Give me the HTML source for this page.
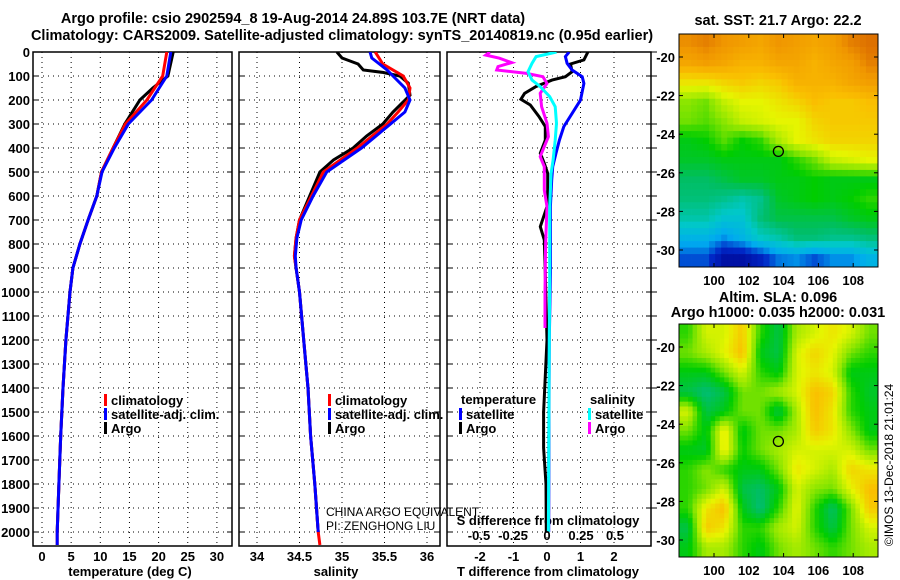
<!DOCTYPE html>
<html><head><meta charset="utf-8"><style>
body{margin:0;background:#fff}
svg{display:block;font-family:"Liberation Sans",sans-serif}
.t{font-weight:bold;font-size:13px}
.h{font-weight:bold;font-size:14.5px}
</style></head><body>
<svg id="c" width="900" height="580" viewBox="0 0 900 580">
<text class="h" x="293" y="23" text-anchor="middle">Argo profile: csio 2902594_8 19-Aug-2014 24.89S 103.7E (NRT data)</text>
<text class="h" x="342" y="40" text-anchor="middle">Climatology: CARS2009. Satellite-adjusted climatology: synTS_20140819.nc (0.95d earlier)</text>
<text class="t" x="130" y="576" text-anchor="middle">temperature (deg C)</text>
<text class="t" x="336" y="576" text-anchor="middle">salinity</text>
<text class="t" x="548" y="576" text-anchor="middle">T difference from climatology</text>
<text class="t" x="548" y="525" text-anchor="middle">S difference from climatology</text>
<text x="326" y="516" font-size="12">CHINA ARGO EQUIVALENT</text>
<text x="326" y="530" font-size="12">PI: ZENGHONG LIU</text>
<text class="h" x="778" y="25" text-anchor="middle">sat. SST: 21.7 Argo: 22.2</text>
<text class="h" x="778" y="302" text-anchor="middle">Altim. SLA: 0.096</text>
<text class="h" x="778" y="317" text-anchor="middle">Argo h1000: 0.035 h2000: 0.031</text>
<text x="893" y="465" font-size="12" text-anchor="middle" transform="rotate(-90 893 465)">©IMOS 13-Dec-2018 21:01:24</text>
</svg>
<script>
// ---- depth axis ----
const depthTicks=[0,100,200,300,400,500,600,700,800,900,1000,1100,1200,1300,1400,1500,1600,1700,1800,1900,2000];
// ---- temperature panel ----
const tTicks=[0,5,10,15,20,25,30];
const tArgoDepth=[0,100,150,200,300,400,500,600,700,800,900,1000,1200,1400,1600,1800,2000];
const tArgo=[22.5,21.6,19,16.8,14.2,12.2,10.2,9.4,7.9,6.5,5.3,4.8,4.1,3.6,3.2,2.9,2.6];
const tClimDepth=[0,100,200,300,400,500,600,700,800,900,1000,1200,1400,1600,1800,2000,2054];
const tClim=[21.4,20.7,18,14.3,12.2,10.2,9.4,7.9,6.5,5.3,4.8,4.1,3.6,3.2,2.9,2.6,2.6];
const tSat=[22.1,21.4,18.8,14.8,12.4,10.3,9.4,7.9,6.5,5.3,4.8,4.1,3.6,3.2,2.9,2.6,2.6];
// ---- salinity panel ----
const sTicks=[34,34.5,35,35.5,36];
const sArgoDepth=[0,25,50,75,85,100,130,180,250,300,350,400,450,500,600,700,775,850,900,1000,1200,1400,1600,1800,2000];
const sArgo=[34.94,35.0,35.19,35.25,35.48,35.68,35.78,35.8,35.6,35.48,35.29,35.13,34.9,34.74,34.62,34.5,34.46,34.44,34.46,34.5,34.55,34.6,34.63,34.68,34.72];
const sClimDepth=[0,50,100,150,200,250,300,400,500,600,700,775,850,900,1000,1200,1400,1600,1800,2000,2054];
const sClim=[35.39,35.48,35.72,35.8,35.78,35.66,35.53,35.18,34.78,34.64,34.5,34.46,34.44,34.46,34.5,34.55,34.6,34.63,34.68,34.72,34.74];
const sSatDepth=[0,25,75,100,150,200,250,300,400,500,600,700,775,850,900,1000,1200,1400,1600,1800,2000];
const sSat=[35.33,35.35,35.53,35.6,35.74,35.8,35.74,35.57,35.23,34.82,34.66,34.52,34.47,34.45,34.46,34.5,34.55,34.6,34.63,34.68,34.72];
// ---- difference panel ----
const dTTicks=[-2,-1,0,1,2];
const dSTicks=[-0.5,-0.25,0,0.25,0.5];
const dTArgoDepth=[0,33,50,82,103,117,144,172,197,221,269,311,367,422,464,506,575,644,728,783,922,1200,1500,1650,1800,2000];
const dTArgo=[1.22,1.1,0.7,0.75,0.55,0.15,-0.33,-0.67,-0.78,-0.5,-0.24,-0.05,-0.05,-0.2,-0.08,0.02,0.02,0,-0.2,-0.08,-0.05,0,-0.1,-0.1,-0.03,-0.02];
const dTSatDepth=[0,19,47,75,103,131,200,256,311,367,422,478,533,644,922,1200,1500,2000];
const dTSat=[0.66,0.55,0.6,0.75,1.05,1.1,1.0,0.75,0.5,0.37,0.27,0.17,0.14,0.1,0.1,0.07,0.06,0.05];
const dSArgoDepth=[0,13,26,44,61,75,89,103,131,172,228,297,353,394,436,478,575,644,800,1000,1150];
const dSArgo=[-0.42,-0.45,-0.35,-0.26,-0.36,-0.37,-0.15,-0.03,0,-0.05,-0.04,0,0.01,-0.02,-0.05,-0.02,-0.02,0,-0.01,-0.015,-0.015];
const dSSatDepth=[0,19,47,82,117,144,186,228,297,367,450,506,644,922,1400,2000];
const dSSat=[0.07,-0.08,-0.11,-0.14,-0.11,-0.05,0.02,0.06,0.07,0.06,0.045,0.03,0.02,0.02,0.015,0.01];
// ---- maps ----
const lonTicks=[100,102,104,106,108];
const latTicks=[-20,-22,-24,-26,-28,-30];
const sstGrid=[
[.93,.95,.92,.9,.88,.92,.9,.88,.9,.95,.97],
[.88,.9,.88,.85,.85,.88,.88,.85,.88,.9,.95],
[.75,.75,.78,.8,.78,.8,.85,.85,.85,.88,.9],
[.62,.6,.68,.72,.72,.75,.78,.82,.8,.8,.82],
[.6,.58,.62,.68,.7,.72,.72,.78,.8,.8,.8],
[.5,.52,.58,.52,.55,.65,.72,.75,.78,.78,.78],
[.48,.48,.5,.5,.5,.5,.55,.6,.68,.7,.72],
[.42,.42,.45,.48,.48,.5,.5,.52,.5,.5,.5],
[.4,.4,.38,.35,.38,.48,.5,.52,.5,.52,.55],
[.35,.35,.3,.3,.4,.45,.45,.45,.45,.48,.5],
[.25,.25,.2,.25,.32,.35,.4,.4,.38,.38,.4],
[.15,.15,.05,.05,.1,.18,.2,.15,.2,.2,.25]];
const slaGrid=[
[.55,.7,.7,.8,.55,.45,.65,.7,.75,.7,.6],
[.6,.65,.72,.82,.5,.45,.7,.78,.72,.6,.55],
[.5,.5,.6,.7,.55,.5,.7,.75,.7,.5,.5],
[.45,.4,.45,.6,.6,.65,.7,.82,.78,.55,.48],
[.7,.45,.5,.6,.6,.45,.65,.82,.75,.55,.5],
[.6,.5,.75,.5,.6,.6,.65,.8,.75,.62,.5],
[.5,.48,.75,.52,.6,.65,.7,.7,.7,.7,.6],
[.55,.62,.55,.5,.5,.6,.75,.7,.65,.78,.75],
[.55,.6,.7,.45,.42,.5,.7,.62,.6,.72,.82],
[.55,.75,.82,.5,.4,.55,.72,.55,.42,.6,.8],
[.45,.8,.75,.55,.55,.65,.7,.55,.45,.6,.7],
[.5,.65,.65,.55,.5,.6,.65,.6,.55,.6,.65]];
const argoLon=103.7, argoLat=-24.89;

const NS='http://www.w3.org/2000/svg';
const svg=document.getElementById('c');
function mk(tag,attrs,parent){const e=document.createElementNS(NS,tag);for(const k in attrs)e.setAttribute(k,attrs[k]);(parent||svg).appendChild(e);return e;}
const Y=d=>52+d*0.24;
const TOP=52,BOT=546;
const panels=[
 {name:'temperature',x0:33,x1:232,fx:v=>42+v*5.83,ticks:tTicks,grid:tTicks},
 {name:'salinity',x0:239,x1:440,fx:v=>257+(v-34)*85,ticks:sTicks,grid:sTicks},
 {name:'difference',x0:447,x1:651,fx:v=>547+v*33.5,ticks:dTTicks,grid:dTTicks}
];
const fS=v=>547+v*136;
panels.forEach(p=>{
 const g=mk('g',{});
 
 
 const cp=mk('clipPath',{id:'cp-'+p.name},g);mk('rect',{x:p.x0,y:TOP,width:p.x1-p.x0,height:BOT-TOP},cp);
 depthTicks.forEach(d=>{
  const l=mk('line',{x1:p.x0,x2:p.x1,y1:Y(d),y2:Y(d),stroke:'#000','stroke-dasharray':'1 4','stroke-width':1},g);
  
  mk('line',{x1:p.x0,x2:p.x0+5,y1:Y(d),y2:Y(d),stroke:'#000'},g);
  mk('line',{x1:p.x1-5,x2:p.x1,y1:Y(d),y2:Y(d),stroke:'#000'},g);
 });
 p.grid.forEach(v=>{
  const x=p.fx(v);
  const l=mk('line',{x1:x,x2:x,y1:TOP,y2:BOT,stroke:'#000','stroke-dasharray':'1 4'},g);
  
  const t=mk('text',{x:x,y:561,'text-anchor':'middle',class:'t'},g);t.textContent=String(v);
  
 });
 mk('rect',{x:p.x0,y:TOP,width:p.x1-p.x0,height:BOT-TOP,fill:'none',stroke:'#000','stroke-width':1.5},g);
 p.g=g;
});
depthTicks.forEach(d=>{
 const t=mk('text',{x:30,y:Y(d)+5,'text-anchor':'end',class:'t'});t.textContent=String(d);
 
});
dSTicks.forEach(v=>{
 const t=mk('text',{x:fS(v),y:540,'text-anchor':'middle',class:'t'});t.textContent=String(v);
 
});
function line(p,fx,vals,depths,color,name,w){
 const pts=vals.map((v,i)=>fx(v).toFixed(1)+','+Y(depths[i]).toFixed(1)).join(' ');
 const e=mk('polyline',{points:pts,fill:'none',stroke:color,'stroke-width':w||3,'clip-path':'url(#cp-'+p.name+')'},p.g);
 
}
const [P1,P2,P3]=panels;
line(P1,P1.fx,tArgo,tArgoDepth,'#000','temperature-argo-line');
line(P1,P1.fx,tClim,tClimDepth,'#f00','temperature-climatology-line');
line(P1,P1.fx,tSat,tClimDepth,'#00f','temperature-satellite-line');
line(P2,P2.fx,sArgo,sArgoDepth,'#000','salinity-argo-line');
line(P2,P2.fx,sClim,sClimDepth,'#f00','salinity-climatology-line');
line(P2,P2.fx,sSat,sSatDepth,'#00f','salinity-satellite-line');
line(P3,P3.fx,dTArgo,dTArgoDepth,'#000','t-diff-argo-line');
line(P3,P3.fx,dTSat,dTSatDepth,'#00f','t-diff-satellite-line');
line(P3,fS,dSArgo,dSArgoDepth,'#f0f','s-diff-argo-line');
line(P3,fS,dSSat,dSSatDepth,'#0ff','s-diff-satellite-line');

function legend(x,y,items,name,head){
 const g=mk('g',{});
 
 let yy=y;
 if(head){const t=mk('text',{x:x+2,y:yy+4,class:'t'},g);t.textContent=head;yy+=14;}
 items.forEach(([c,l])=>{
  mk('rect',{x:x,y:yy-6,width:3,height:12,fill:c},g);
  const t=mk('text',{x:x+7,y:yy+5,class:'t'},g);t.textContent=l;
  yy+=14;
 });
}
legend(104,400,[['#f00','climatology'],['#00f','satellite-adj. clim.'],['#000','Argo']],'temperature-legend');
legend(328,400,[['#f00','climatology'],['#00f','satellite-adj. clim.'],['#000','Argo']],'salinity-legend');
legend(459,400,[['#00f','satellite'],['#000','Argo']],'t-diff-legend','temperature');
legend(588,400,[['#0ff','satellite'],['#f0f','Argo']],'s-diff-legend','salinity');
depthTicks.forEach(d=>mk('line',{x1:651,x2:657,y1:Y(d),y2:Y(d),stroke:'#000'}));

// ---- maps ----
const stops=[[0,[0,0,140]],[0.12,[0,40,200]],[0.22,[0,170,240]],[0.32,[0,200,200]],[0.42,[0,190,100]],[0.52,[0,205,0]],[0.62,[140,230,0]],[0.72,[230,245,0]],[0.82,[250,190,0]],[0.92,[240,150,0]],[1,[210,90,0]]];
function cmap(v){for(let i=1;i<stops.length;i++){if(v<=stops[i][0]){const a=stops[i-1],b=stops[i],t=(v-a[0])/(b[0]-a[0]);return 'rgb('+a[1].map((c,k)=>Math.round(c+(b[1][k]-c)*t)).join(',')+')';}}return 'rgb(210,90,0)';}
function sample(grid,fy,fx){
 const R=grid.length,C=grid[0].length;
 const y=Math.min(Math.max(fy*R-0.5,0),R-1),x=Math.min(Math.max(fx*C-0.5,0),C-1);
 const y0=Math.floor(y),x0=Math.floor(x),y1=Math.min(y0+1,R-1),x1=Math.min(x0+1,C-1),ty=y-y0,tx=x-x0;
 return grid[y0][x0]*(1-ty)*(1-tx)+grid[y0][x1]*(1-ty)*tx+grid[y1][x0]*ty*(1-tx)+grid[y1][x1]*ty*tx;
}
const MX0=679,MX1=878;
const fLon=l=>714+(l-100)*17.4;
function map(y0,y1,grid,name,fLat,sub){
 const g=mk('g',{});
 
 const rows=grid.length*sub,cols=grid[0].length*sub,cw=(MX1-MX0)/cols,ch=(y1-y0)/rows;
 for(let i=0;i<rows;i++)for(let j=0;j<cols;j++){
  const v=sample(grid,(i+0.5)/rows,(j+0.5)/cols);
  const c=mk('rect',{x:(MX0+j*cw).toFixed(2),y:(y0+i*ch).toFixed(2),width:(cw+0.4).toFixed(2),height:(ch+0.4).toFixed(2),fill:cmap(v)},g);
  
  
 }
 mk('rect',{x:MX0,y:y0,width:MX1-MX0,height:y1-y0,fill:'none',stroke:'#000'},g);
 lonTicks.forEach(l=>{const x=fLon(l);mk('line',{x1:x,x2:x,y1:y0,y2:y0+4,stroke:'#000'},g);mk('line',{x1:x,x2:x,y1:y1-4,y2:y1,stroke:'#000'},g);
  const t=mk('text',{x:x,y:y1+18,'text-anchor':'middle',class:'t'},g);t.textContent=String(l);});
 latTicks.forEach(l=>{const y=fLat(l);mk('line',{x1:MX0,x2:MX0+4,y1:y,y2:y,stroke:'#000'},g);mk('line',{x1:MX1-4,x2:MX1,y1:y,y2:y,stroke:'#000'},g);
  const t=mk('text',{x:675,y:y+5,'text-anchor':'end',class:'t'},g);t.textContent=String(l);});
 const m=mk('circle',{cx:fLon(argoLon),cy:fLat(argoLat),r:5,fill:'none',stroke:'#000','stroke-width':1.3},g);
 
}
map(34,267,sstGrid,'sst-map',l=>57+(-20-l)*19.3,3);
map(324,557,slaGrid,'sla-map',l=>347+(-20-l)*19.3,4);
</script>
</body></html>
